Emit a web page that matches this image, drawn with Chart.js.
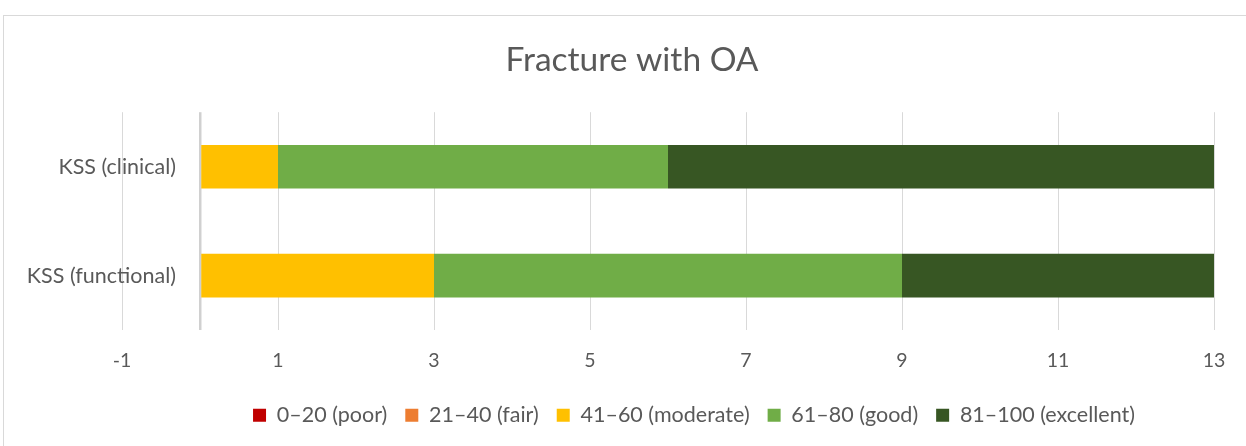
<!DOCTYPE html>
<html><head><meta charset="utf-8">
<script src="https://cdn.jsdelivr.net/npm/chart.js@4/dist/chart.umd.min.js"></script>
<style>
html,body{margin:0;padding:0;background:#fff;}
#frame{position:absolute;left:3px;top:15px;width:1260px;height:440px;border:1px solid #d9d9d9;box-sizing:border-box;}
#wrap{position:absolute;left:0;top:0;width:1246px;height:446px;}
</style></head>
<body>
<div id="frame"></div>
<div id="wrap"><canvas id="c" width="1246" height="446"></canvas></div>
<script>
const categories = ['KSS (clinical)', 'KSS (functional)'];
const seriesNames = ['0–20 (poor)', '21–40 (fair)', '41–60 (moderate)', '61–80 (good)', '81–100 (excellent)'];
const poor = [0, 0];
const fair = [0, 0];
const moderate = [1, 3];
const good = [5, 6];
const excellent = [7, 4];
const tickValues = [-1, 1, 3, 5, 7, 9, 11, 13];
const colors = ['#C00000', '#ED7D31', '#FFC000', '#70AD47', '#375623'];
const seriesData = [poor, fair, moderate, good, excellent];

const txt = '#595959';
const font = 'Lato, "Open Sans", sans-serif';

// Category labels drawn right-aligned just left of the zero line (as in the original)
const catLabels = {
  id: 'catLabels',
  afterDraw(chart) {
    const x = chart.scales.x, y = chart.scales.y, ctx = chart.ctx;
    ctx.save();
    ctx.font = '21.5px ' + font;
    ctx.fillStyle = txt;
    ctx.textAlign = 'right';
    ctx.textBaseline = 'middle';
    chart.data.labels.forEach((l, i) => ctx.fillText(l, x.getPixelForValue(0) - 24, y.getPixelForValue(i)));
    ctx.restore();
  }
};

// Legend in the original sits a little right of the title's centre
const legendShift = {
  id: 'legendShift',
  afterLayout(chart) {
    const lg = chart.legend;
    if (lg) { lg.left += 62; lg.right += 62; lg.top -= 5; lg.bottom -= 5; }
  }
};

new Chart(document.getElementById('c'), {
  type: 'bar',
  data: {
    labels: categories,
    datasets: seriesNames.map((n, i) => ({
      label: n,
      data: seriesData[i],
      backgroundColor: colors[i],
      borderWidth: 0,
      categoryPercentage: 1,
      barPercentage: 0.4
    }))
  },
  plugins: [catLabels, legendShift],
  options: {
    indexAxis: 'y',
    responsive: false,
    animation: false,
    layout: { padding: { left: 50, right: 32, top: 0, bottom: 5 } },
    plugins: {
      title: {
        display: true, text: 'Fracture with OA', color: txt,
        font: { family: font, size: 33.5, weight: 'normal' },
        padding: { top: 40, bottom: 32 }
      },
      legend: {
        position: 'bottom',
        labels: { color: txt, font: { family: font, size: 21.5 }, boxWidth: 13, boxHeight: 13, padding: 18 }
      },
      tooltip: { enabled: false }
    },
    scales: {
      x: {
        stacked: true, min: -1, max: 13,
        afterBuildTicks: s => { s.ticks = tickValues.concat([0]).sort((a, b) => a - b).map(v => ({ value: v })); },
        ticks: { color: txt, font: { family: font, size: 19.5 }, padding: 19, autoSkip: false, maxRotation: 0,
          callback: v => (v === 0 ? '' : v) },
        grid: {
          drawTicks: false,
          color: c => (c.tick && c.tick.value === 0 ? '#d0d0d0' : '#d9d9d9'),
          lineWidth: c => (c.tick && c.tick.value === 0 ? 2.5 : 1)
        },
        border: { display: false }
      },
      y: {
        stacked: true,
        afterFit: s => { s.width = 72; },
        ticks: { display: false },
        grid: { display: false, drawTicks: false },
        border: { display: false }
      }
    }
  }
});
</script>
</body></html>
